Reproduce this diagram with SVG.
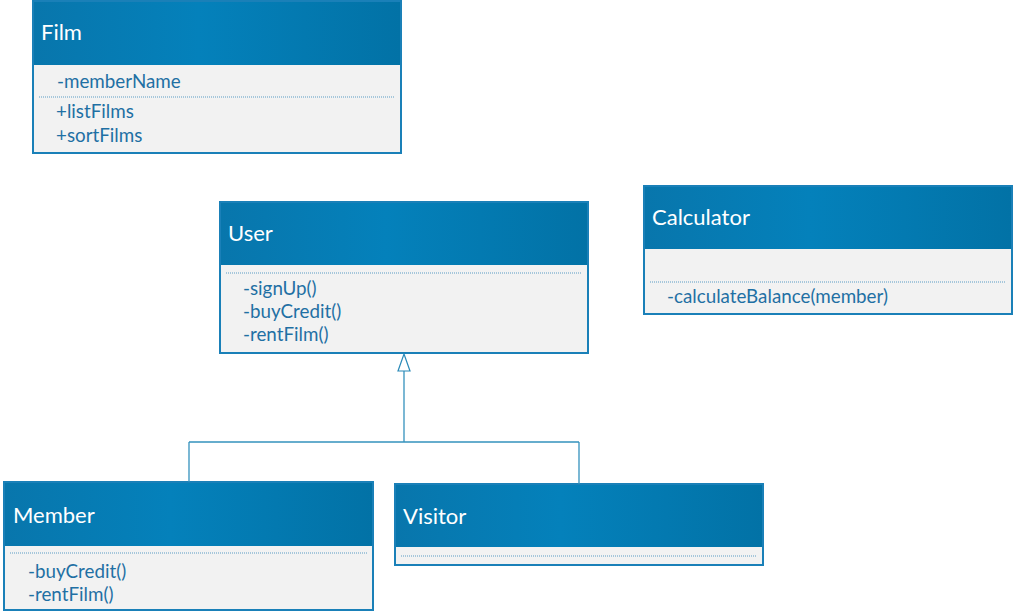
<svg xmlns="http://www.w3.org/2000/svg" width="1014" height="615" viewBox="0 0 1014 615">
<defs>
<linearGradient id="hdr" x1="0" y1="0" x2="1" y2="0">
<stop offset="0" stop-color="#0876ac"/>
<stop offset="0.45" stop-color="#0481bb"/>
<stop offset="1" stop-color="#0272a6"/>
</linearGradient>
</defs>
<style>
.box{fill:#f2f2f2;stroke:#1a80b8;stroke-width:2}
.hdr{fill:url(#hdr)}
.title{font-family:Lato,"Open Sans",sans-serif;font-size:22px;fill:#ffffff}
.item{font-family:Lato,"Open Sans",sans-serif;font-size:18.8px;fill:#1f70a4}
.sep{stroke:#5a9cc4;stroke-width:1;stroke-dasharray:1 1;fill:none}
.conn{stroke:#3592bd;stroke-width:1.3;fill:none}
.head{fill:#ffffff;stroke:#2a8ab8;stroke-width:1.2}
</style>
<rect width="1014" height="615" fill="#ffffff"/>
<g id="Film">
<rect class="box" x="33" y="1" width="368" height="152"/>
<rect class="hdr" x="34" y="2" width="366" height="63"/>
<text class="title" x="41" y="40">Film</text>
<text class="item" x="57" y="88">-memberName</text>
<line class="sep" x1="39" y1="97" x2="395" y2="97"/>
<text class="item" x="56" y="118">+listFilms</text>
<text class="item" x="56" y="142">+sortFilms</text>
</g>
<g id="User">
<rect class="box" x="220" y="202" width="368" height="151"/>
<rect class="hdr" x="221" y="203" width="366" height="62"/>
<text class="title" x="228" y="241">User</text>
<line class="sep" x1="226" y1="273" x2="582" y2="273"/>
<text class="item" x="243" y="295">-signUp()</text>
<text class="item" x="243" y="318">-buyCredit()</text>
<text class="item" x="243" y="341">-rentFilm()</text>
</g>
<g id="Calculator">
<rect class="box" x="644" y="186" width="368" height="128"/>
<rect class="hdr" x="645" y="187" width="366" height="62"/>
<text class="title" x="652" y="225">Calculator</text>
<line class="sep" x1="650" y1="282" x2="1006" y2="282"/>
<text class="item" x="667" y="303">-calculateBalance(member)</text>
</g>
<g id="Member">
<rect class="box" x="4" y="482" width="369" height="128"/>
<rect class="hdr" x="5" y="483" width="367" height="63"/>
<text class="title" x="13" y="523">Member</text>
<line class="sep" x1="10" y1="553" x2="367" y2="553"/>
<text class="item" x="28" y="578">-buyCredit()</text>
<text class="item" x="28" y="601">-rentFilm()</text>
</g>
<g id="Visitor">
<rect class="box" x="395" y="484" width="368" height="81"/>
<rect class="hdr" x="396" y="485" width="366" height="62"/>
<text class="title" x="403" y="524">Visitor</text>
<line class="sep" x1="401" y1="556" x2="757" y2="556"/>
</g>
<g id="connectors">
<path class="conn" d="M404 371 L404 442 M189 442 L579 442 M189 442 L189 482 M579 442 L579 484"/>
<path class="head" d="M404 354 L410 371 L398 371 Z"/>
</g>
</svg>
